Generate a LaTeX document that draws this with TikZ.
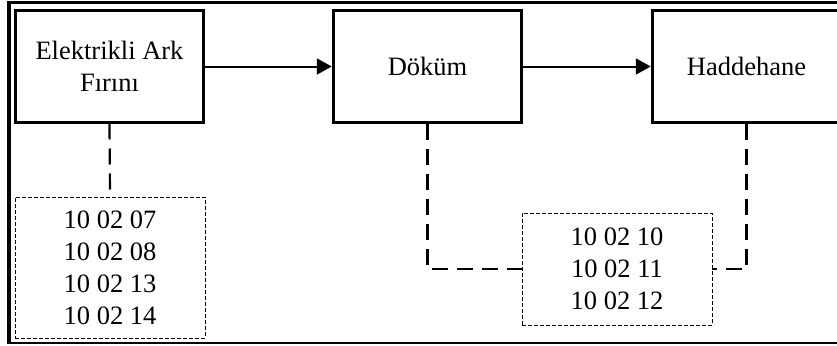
\documentclass[tikz,border=0pt]{standalone}
\usepackage{fontspec}
\setmainfont{Liberation Serif}
\usetikzlibrary{arrows.meta}
\begin{document}
\begin{tikzpicture}[x=1pt,y=-1pt,
  stagebox/.style={draw,line width=3pt,minimum width=188.5pt,minimum height=111pt,inner sep=0pt,align=center,
    font=\fontsize{26.5}{32}\selectfont},
  codebox/.style={draw,line width=0.9pt,dash pattern=on 4pt off 2pt,inner sep=0pt,align=center,
    font=\fontsize{26.5}{32}\selectfont},
  flow/.style={line width=2pt,-{Triangle[length=15pt,width=16pt]}},
  link/.style={line width=2.2pt,dash pattern=on 16pt off 9pt}]
\useasboundingbox (0,0) rectangle (837,345);
\clip (0,0) rectangle (837,345);
% frame
\draw[line width=2.5pt] (7,2.5) -- (845,2.5);
\draw[line width=2.5pt] (7,343) -- (845,343);
\draw[line width=4pt] (9,1.25) -- (9,344.25);
% stages
\node[stagebox] (b1) at (109.5,66.5) {Elektrikli Ark\\Fırını};
\node[stagebox] (b2) at (427.5,66.5) {Döküm};
\node[stagebox] (b3) at (746.5,66.5) {Haddehane};
\draw[flow] (b1) -- (b2);
\draw[flow] (b2) -- (b3);
% codes
\node[codebox,minimum width=190pt,minimum height=141pt] (d1) at (110,267.5) {10 02 07\\10 02 08\\10 02 13\\10 02 14};
\node[codebox,minimum width=190pt,minimum height=112pt] (d2) at (617,269) {10 02 10\\10 02 11\\10 02 12};
\draw[link] (b1.south) -- (d1.north);
\draw[link] (b2.south) |- (d2.west);
\draw[link] (b3.south) |- (d2.east);
\end{tikzpicture}
\end{document}
